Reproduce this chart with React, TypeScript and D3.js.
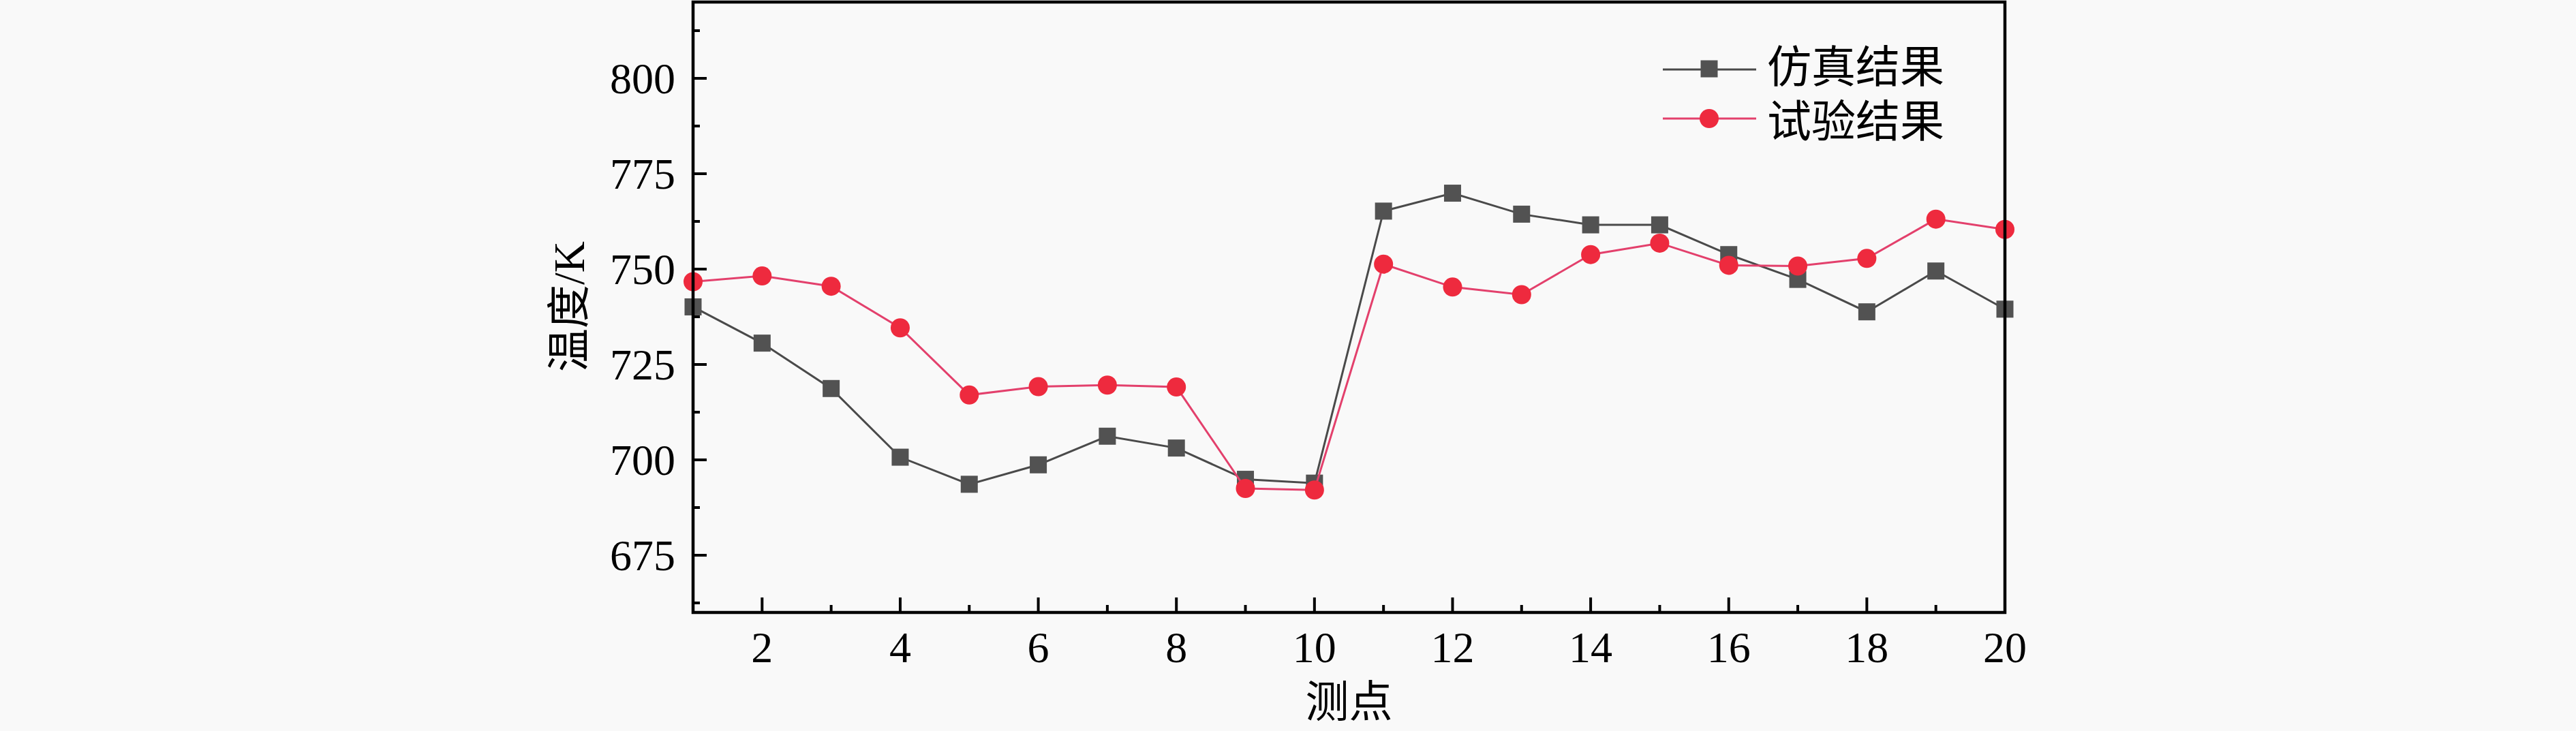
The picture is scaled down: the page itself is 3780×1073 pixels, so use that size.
import React from "react";
import * as d3 from "d3";

const points: number[] = [1, 2, 3, 4, 5, 6, 7, 8, 9, 10, 11, 12, 13, 14, 15, 16, 17, 18, 19, 20];
const simulation: number[] = [740.1, 730.6, 718.7, 700.7, 693.6, 698.7, 706.2, 703.1, 694.9, 693.9, 765.2, 769.9, 764.4, 761.6, 761.6, 753.8, 747.3, 738.8, 749.5, 739.5];
const experiment: number[] = [746.7, 748.2, 745.5, 734.6, 717.0, 719.2, 719.6, 719.1, 692.5, 692.1, 751.3, 745.3, 743.3, 753.8, 756.8, 751.0, 750.8, 752.8, 763.1, 760.4];
const xTicks: number[] = [2, 4, 6, 8, 10, 12, 14, 16, 18, 20];
const xMinorTicks: number[] = [1, 3, 5, 7, 9, 11, 13, 15, 17, 19];
const yTicks: number[] = [675, 700, 725, 750, 775, 800];
const yMinorTicks: number[] = [662.5, 687.5, 712.5, 737.5, 762.5, 787.5, 812.5];
const seriesNames: string[] = ["仿真结果", "试验结果"];
const xTitle = "测点";
const yTitle = "温度/K";

const W = 3780;
const H = 1073;
const left = 1017;
const right = 2942;
const top = 3;
const bottom = 899;

const serif = "'Liberation Serif', 'Times New Roman', 'Noto Sans CJK SC', serif";
const cjk = "'Liberation Serif', 'Noto Sans CJK SC', sans-serif";

const grayLine = "#4a4a4a";
const grayFill = "#525252";
const redLine = "#e3406c";
const redFill = "#ee2a3e";

export default function App() {
  const x = d3.scaleLinear().domain([1, 20]).range([left, right]);
  const y = d3.scaleLinear().domain([660, 820]).range([bottom, top]);

  const lineGen = d3
    .line<number>()
    .x((_, i) => x(points[i]))
    .y((d) => y(d));

  const sq = 25;
  const r = 14;

  return (
    <svg
      width={W}
      height={H}
      style={{ position: "absolute", left: 0, top: 0, background: "#f9f9f9" }}
    >
      <rect x={0} y={0} width={W} height={H} fill="#f9f9f9" />

      {/* series lines */}
      <path d={lineGen(simulation) || ""} fill="none" stroke={grayLine} strokeWidth={3} />
      {simulation.map((v, i) => (
        <rect
          key={"s" + i}
          x={x(points[i]) - sq / 2}
          y={y(v) - sq / 2}
          width={sq}
          height={sq}
          fill={grayFill}
        />
      ))}
      <path d={lineGen(experiment) || ""} fill="none" stroke={redLine} strokeWidth={3} />
      {experiment.map((v, i) => (
        <circle key={"e" + i} cx={x(points[i])} cy={y(v)} r={r} fill={redFill} />
      ))}

      {/* frame */}
      <rect
        x={left}
        y={top}
        width={right - left}
        height={bottom - top}
        fill="none"
        stroke="#000"
        strokeWidth={4.5}
      />

      {/* y ticks */}
      {yTicks.map((t) => (
        <g key={"yt" + t}>
          <line x1={left} x2={left + 20} y1={y(t)} y2={y(t)} stroke="#000" strokeWidth={4} />
          <text
            x={left - 26}
            y={y(t)}
            dy="0.34em"
            textAnchor="end"
            fontFamily={serif}
            fontSize={64}
            fill="#000"
          >
            {t}
          </text>
        </g>
      ))}
      {yMinorTicks.map((t) => (
        <line key={"ym" + t} x1={left} x2={left + 10} y1={y(t)} y2={y(t)} stroke="#000" strokeWidth={4} />
      ))}

      {/* x ticks */}
      {xTicks.map((t) => (
        <g key={"xt" + t}>
          <line x1={x(t)} x2={x(t)} y1={bottom} y2={bottom - 22} stroke="#000" strokeWidth={4} />
          <text
            x={x(t)}
            y={bottom + 73}
            textAnchor="middle"
            fontFamily={serif}
            fontSize={64}
            fill="#000"
          >
            {t}
          </text>
        </g>
      ))}
      {xMinorTicks.map((t) => (
        <line key={"xm" + t} x1={x(t)} x2={x(t)} y1={bottom} y2={bottom - 11} stroke="#000" strokeWidth={4} />
      ))}

      {/* axis titles */}
      <text
        x={(left + right) / 2}
        y={1030}
        textAnchor="middle"
        dominantBaseline="central"
        fontFamily={cjk}
        fontSize={64}
        fill="#000"
      >
        {xTitle}
      </text>
      <text
        transform={`translate(835, 450) rotate(-90)`}
        textAnchor="middle"
        dominantBaseline="central"
        fontFamily={cjk}
        fontSize={64}
        fill="#000"
      >
        {yTitle}
      </text>

      {/* legend */}
      <g>
        <line x1={2440} x2={2577} y1={102} y2={102} stroke={grayLine} strokeWidth={3} />
        <rect x={2508 - sq / 2} y={101 - sq / 2} width={sq} height={sq} fill={grayFill} />
        <text x={2593} y={99} dominantBaseline="central" fontFamily={cjk} fontSize={65} fill="#000">
          {seriesNames[0]}
        </text>
        <line x1={2440} x2={2577} y1={174} y2={174} stroke={redLine} strokeWidth={3} />
        <circle cx={2508} cy={174} r={r} fill={redFill} />
        <text x={2593} y={179} dominantBaseline="central" fontFamily={cjk} fontSize={65} fill="#000">
          {seriesNames[1]}
        </text>
      </g>
    </svg>
  );
}
